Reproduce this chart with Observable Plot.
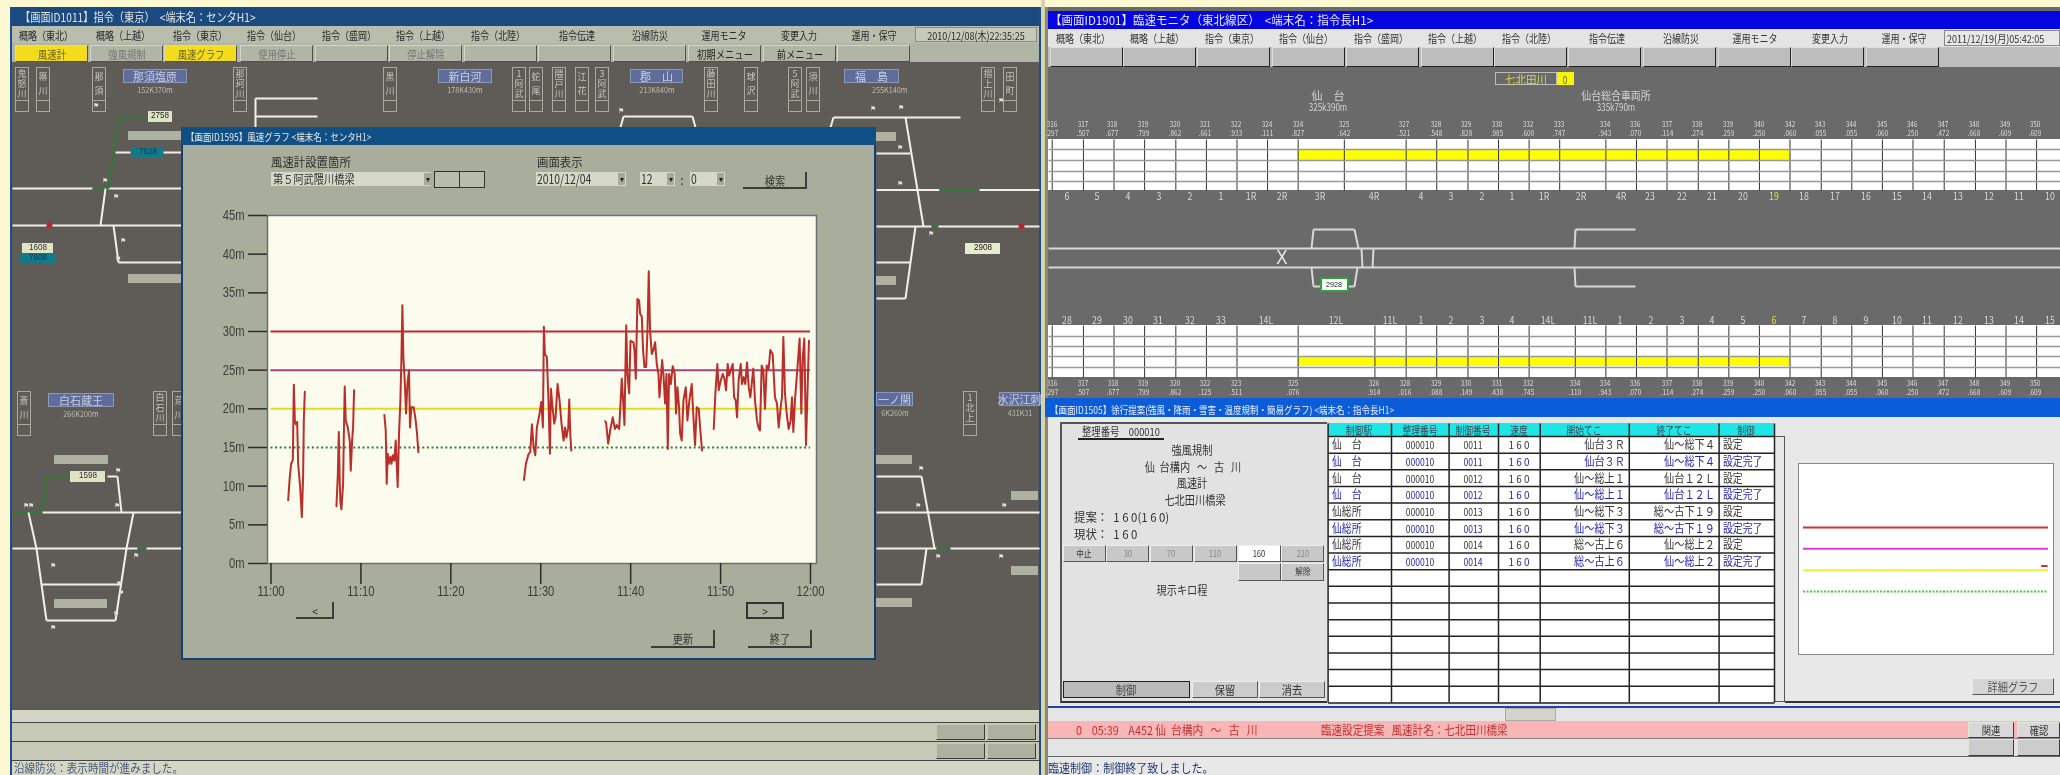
<!DOCTYPE html>
<html lang="ja"><head><meta charset="utf-8">
<script src="https://cdn.jsdelivr.net/npm/d3@7"></script>
<script src="https://cdn.jsdelivr.net/npm/@observablehq/plot@0.6"></script>
<style>
html,body{margin:0;padding:0;width:2060px;height:775px;overflow:hidden;background:#fbf8d2}
#root{position:absolute;left:0;top:0;width:2060px;height:775px;overflow:hidden;font-family:"Noto Sans CJK JP","Noto Sans",sans-serif;filter:blur(.3px)}
#root svg{position:absolute;background:transparent}
</style></head><body><div id="root"></div>
<script>
// ---------- chart data: wind speed (m/s) by minutes after 11:00 ----------
const minA=[1.91,2.09,2.24,2.43,2.54,2.65,2.76,2.91,3.02,3.24,3.43,3.57,3.65,3.76];
const valA=[8.2,11.2,12.9,13.4,23.1,18.5,18,18.3,12.9,9.9,6,11.2,18.5,22.2];
const minB=[7.28,7.43,7.54,7.65,7.72,7.83,8.02,8.09,8.2,8.31,8.54,8.76,8.87,9.02,9.13,9.24];
const valB=[7.4,11.4,17,10.3,7.9,7,10.3,15.9,22.9,18.5,17.6,15.9,12,15.9,17.6,22.4];
const minC=[12.61,12.76,12.87,12.98,13.09,13.28,13.39,13.57,13.72,13.87,14.09,14.24,14.39,14.5,14.61,14.72,14.87,15.02,15.17,15.35,15.46,15.61,15.87,16.09,16.24,16.39];
const valC=[19.2,17.2,10.3,14.2,12.9,13.8,12.9,14,13.3,15.9,9.9,16.8,21.1,26.3,33.4,26.7,23.7,19.4,23.2,25,17.6,20.2,20.2,18.5,16.8,14.4];
const minD=[28.13,28.35,28.65,28.83,29.02,29.2,29.39,29.57,29.87,30.06,30.24,30.35,30.46,30.68,30.87,31.02,31.13,31.31,31.5,31.65,31.87,32.09,32.31,32.54,32.7,32.85,33.06,33.17,33.28,33.4];
const valD=[10.8,12.9,14.2,14.4,18,15.1,14,17.6,19.4,20.9,17.6,30.6,27.1,26.7,20.7,14.2,22.6,20.2,18.1,18.9,23.2,21.1,18.1,15.9,17.6,16.3,17.6,21.2,16.8,14.6];
const minE=[37.16,37.27,37.5,37.72,38.01,38.24,38.46,38.72,38.83,39.01,39.16,39.31,39.5,39.64,39.83,39.98,40.31,40.42,40.57,40.75,40.94,41.05,41.24,41.38,41.53,41.72,41.87,42.01,42.16,42.35,42.53,42.72,42.9,43.09,43.2,43.35,43.5,43.64,43.83,43.98,44.13,44.27,44.46,44.68,44.9,45.05,45.2,45.38,45.5,45.68,45.87,46.13,46.31,46.53,46.79,46.98,47.16,47.35,47.57,47.75,47.94];
const valE=[18.4,18.2,15.5,17.2,18.9,17.4,17.9,17.4,19.8,23.9,21.1,17.9,30.8,24.5,22,28.8,28.6,27.6,23.9,34.2,34,32.3,31.9,27.6,25.4,25.4,30.1,37.8,30.1,27.1,27.6,28.6,25.8,24.5,21.5,23.7,26.3,24.5,20.7,24.5,14.8,24.5,23.2,25.5,24.5,19.4,22.8,20.2,16.8,15.9,21.1,22.8,18.5,21.1,23.2,18.9,15.3,20.2,20,17.2,14.6];
const minF=[49.24,49.42,49.64,49.79,49.98,50.24,50.42,50.61,50.79,50.94,51.13,51.35,51.5,51.68,51.83,52.01,52.24,52.38,52.57,52.75,52.94,53.13,53.31,53.64,53.83,54.05,54.2,54.38,54.57,54.75,54.94,55.13,55.35,55.53,55.79,56.05,56.27,56.46,56.68,56.83,56.98,57.16,57.35,57.57,57.79,57.94,58.09,58.27,58.53,58.79,58.98,59.12,59.31,59.5,59.64,59.83];
const valF=[17.4,22,25.8,22.4,23.5,24.5,23.9,22.4,25.8,24.3,25,25.8,21.5,21.1,18.9,23.7,25.8,23.2,24.1,23.2,26,22.8,21.5,25.2,21.1,18.5,17.6,17.2,25.6,25,20,25.6,25.2,27.6,27.1,21.5,20.7,17.6,20.2,21.5,29.3,22,19.4,17.4,18.5,21.5,17,21.1,25,29.1,19.4,26.3,29.1,15.3,21.1,28.8];
const solidThresholds=[30,25,20];
const dottedThresholds=[15];
const yTicks=[0,5,10,15,20,25,30,35,40,45];
const xTickMinutes=[0,10,20,30,40,50,60];
const miniMin=[58.4,59.6], miniVal=[21,21];

// ---------- screen texts ----------
const menuNames=["概略（東北）","概略（上越）","指令（東京）","指令（仙台）","指令（盛岡）","指令（上越）","指令（北陸）","指令伝達","沿線防災","運用モニタ","変更入力","運用・保守"];
const leftButtons=["風速計","強風規制","風速グラフ","使用停止","","停止解除","","","","初期メニュー","前メニュー",""];
const tableHead=["制御駅","整理番号","制御番号","速度","開始てこ","終了てこ","制御"];
const tableRows=[
["仙　台","000010","0011","1 6 0","仙台３Ｒ","仙〜総下４","設定"],
["仙　台","000010","0011","1 6 0","仙台３Ｒ","仙〜総下４","設定完了"],
["仙　台","000010","0012","1 6 0","仙〜総上１","仙台１２Ｌ","設定"],
["仙　台","000010","0012","1 6 0","仙〜総上１","仙台１２Ｌ","設定完了"],
["仙総所","000010","0013","1 6 0","仙〜総下３","総〜古下１９","設定"],
["仙総所","000010","0013","1 6 0","仙〜総下３","総〜古下１９","設定完了"],
["仙総所","000010","0014","1 6 0","総〜古上６","仙〜総上２","設定"],
["仙総所","000010","0014","1 6 0","総〜古上６","仙〜総上２","設定完了"]];
const kmTop=[[18,"316",".297"],[66,"317",".507"],[110,"318",".677"],[158,"319",".799"],[207,"320",".862"],[254,"321",".661"],[302,"322",".933"],[349,"324",".111"],[396,"324",".827"],[467,"325",".642"],[560,"327",".521"],[608,"328",".548"],[655,"329",".828"],[703,"330",".985"],[750,"332",".600"],[798,"333",".747"],[868,"334",".943"],[915,"336",".070"],[963,"337",".114"],[1010,"338",".274"],[1057,"339",".259"],[1105,"340",".250"],[1152,"342",".060"],[1199,"343",".055"],[1246,"344",".055"],[1294,"345",".060"],[1341,"346",".250"],[1388,"347",".472"],[1436,"348",".668"],[1483,"349",".609"],[1530,"350",".609"]];
const kmBottom=[[18,"316",".297"],[66,"317",".507"],[112,"318",".677"],[158,"319",".799"],[207,"320",".862"],[254,"322",".125"],[302,"323",".511"],[389,"325",".076"],[514,"326",".914"],[561,"328",".016"],[608,"329",".088"],[655,"330",".149"],[703,"331",".438"],[750,"332",".745"],[822,"334",".110"],[869,"334",".943"],[915,"336",".070"],[963,"337",".114"],[1010,"338",".274"],[1057,"339",".259"],[1105,"340",".250"],[1152,"342",".060"],[1199,"343",".055"],[1246,"344",".055"],[1294,"345",".060"],[1341,"346",".250"],[1388,"347",".472"],[1436,"348",".668"],[1483,"349",".609"],[1530,"350",".609"]];
const topNums=[[42,"6"],[88,"5"],[135,"4"],[183,"3"],[230,"2"],[278,"1"],[325,"1R"],[372,"2R"],[431,"3R"],[514,"4R"],[585,"4"],[632,"3"],[679,"2"],[726,"1"],[775,"1R"],[832,"2R"],[893,"4R"],[938,"23"],[987,"22"],[1033,"21"],[1080,"20"],[1128,"19"],[1175,"18"],[1222,"17"],[1270,"16"],[1317,"15"],[1364,"14"],[1411,"13"],[1458,"12"],[1505,"11"],[1552,"10"]];
const lowNums=[[41,"28"],[88,"29"],[135,"30"],[182,"31"],[231,"32"],[278,"33"],[347,"14L"],[455,"12L"],[538,"11L"],[585,"1"],[632,"2"],[679,"3"],[726,"4"],[781,"14L"],[845,"11L"],[892,"1"],[939,"2"],[986,"3"],[1033,"4"],[1081,"5"],[1128,"6"],[1175,"7"],[1222,"8"],[1270,"9"],[1317,"10"],[1364,"11"],[1411,"12"],[1458,"13"],[1505,"14"],[1552,"15"]];

// ---------- helpers ----------
const root=document.getElementById("root");
const rx=z=>1040+z/1.537;
function box(x,y,w,h,bg,css=""){const d=document.createElement("div");d.style.cssText=`position:absolute;left:${x}px;top:${y}px;width:${w}px;height:${h}px;background:${bg};box-sizing:border-box;${css}`;root.append(d);return d;}
function txt(x,y,s,o={}){const {size=11,color="#222",anchor="l",sx=.85,css=""}=o;const d=document.createElement("div");
 const t=anchor==="l"?`translateY(-50%) scaleX(${sx})`:anchor==="c"?`translate(-50%,-50%) scaleX(${sx})`:`translate(-100%,-50%) scaleX(${sx})`;
 const org=anchor==="l"?"left center":anchor==="c"?"center center":"right center";
 d.style.cssText=`position:absolute;left:${x}px;top:${y}px;font-size:${size}px;line-height:1.1;color:${color};white-space:pre;transform:${t};transform-origin:${org};${css}`;d.textContent=s;root.append(d);return d;}
function btn(x,y,w,h,bg,label,o={}){box(x,y,w,h,bg,`border:1px solid;border-color:${o.hi||"#e4e6da"} ${o.lo||"#3a3c38"} ${o.lo||"#3a3c38"} ${o.hi||"#e4e6da"};`);if(label)txt(x+w/2,y+h/2,label,{anchor:"c",size:o.size||11,color:o.color||"#333",sx:o.sx||.85});}
function vbox(x,y,label){box(x,y,14,45,"transparent","border:1px solid #a9a9a0;");box(x,y+33,14,1,"#a9a9a0");
 const ch=[...label],step=ch.length>2?10:14,y0=y+17-(ch.length-1)*step/2;
 ch.forEach((c,i)=>txt(x+7,y0+i*step,c,{anchor:"c",size:9,color:"#c4c4ba",sx:1}));}
function station(x,y,w,name,sub){box(x,y,w,14,"#5f6d9c","border:1px solid #8d97b6;");txt(x+w/2,y+7,name,{anchor:"c",size:11,color:"#c9cde0",sx:1});if(sub)txt(x+w/2,y+21,sub,{anchor:"c",size:8,color:"#bdbdb2",sx:.9});}

// ---------- left screen ----------
box(11,7,1030,768,"#5f5c58");
box(10,7,2,768,"#1d4f86");box(1039,7,2,768,"#1d4f86");box(1041,0,4,775,"#d7d4ad");
box(12,7,1027,19,"#1b4a80");
txt(20,17,"【画面ID1011】指令（東京）　<端末名：センタH1>",{size:12,color:"#e2e6e2"});
box(12,26,1027,17,"#b9bdad");
[[13,65],[96,53],[171,58],[245,57],[320,58],[395,56],[470,56],[556,41],[630,40],[698,51],[778,42],[847,53]].forEach(([x,w],i)=>{txt(x+w/2,35,menuNames[i],{anchor:"c",size:11,color:"#2a2a2a",sx:.82});});
box(915,27,122,15,"#c6c9ba","border:1px solid #8b8d80;");txt(976,35,"2010/12/08(木)22:35:25",{anchor:"c",size:11,color:"#2c2c2c",sx:.82});
box(12,43,1027,19,"#b1b5a5");
[15,90,164,240,315,389,464,538,613,688,763,837].forEach((x,i)=>{const y=i===0||i===2;btn(x,45,73,17,y?"#f3dc1e":"#b1b5a5",leftButtons[i],{color:y?"#6d6420":(i>=9?"#222":"#777"),hi:"#d5d8c8",lo:"#4e504a"});});
[[15,"鬼怒川"],[36,"箒川"],[92,"那須"],[233,"那珂川"],[383,"黒川"],[512,"1阿武"],[529,"蛇尾"],[552,"隈戸川"],[575,"江花"],[595,"3阿武"],[704,"藤田川"],[744,"球沢"],[788,"5阿武"],[806,"須川"],[981,"摺上川"],[1003,"田町"]].forEach(([x,l])=>vbox(x,67,l));
station(123,69,64,"那須塩原","152K370m");station(438,69,54,"新白河","178K430m");station(630,69,53,"郡　山","213K840m");station(844,69,55,"福　島","");txt(872,90,"255K140m",{anchor:"l",size:8,color:"#bdbdb2",sx:.9});
[[17,"斎川"],[153,"白石川"],[172,"荒川"],[963,"1北上"]].forEach(([x,l])=>vbox(x,391,l));
station(48,393,66,"白石蔵王","266K200m");station(876,392,37,"一ノ関","6K260m");station(999,392,41,"水沢江刺","431K31");
[[128,131,53],[128,274,53],[54,455,54],[54,599,53],[876,132,20],[876,276,20],[876,455,36],[876,598,36],[1011,491,27],[1011,566,27]].forEach(([x,y,w])=>box(x,y,w,9,"#aeb1a0"));
box(12,710,1027,12,"#d2d5c2");box(12,722,1027,1,"#444");box(12,741,1027,1,"#444");box(12,760,1027,1,"#444");
box(12,723,1027,18,"#c6c9b6");box(12,742,1027,18,"#c6c9b6");box(12,761,1027,14,"#d5d7c6");
[[936,724],[987,724],[936,743],[987,743]].forEach(([x,y])=>btn(x,y,49,16,"#aeb1a0","",{hi:"#c6c9b6",lo:"#3a3c38"}));
txt(14,768,"沿線防災：表示時間が進みました。",{size:12,color:"#4a5a78",sx:.88});

// ---------- right screen ----------
box(1045,7,1015,768,"#6a6a6a");box(1045,7,3,768,"#8a8a6a");
box(1048,11,1012,18,"#0505e0");
txt(1050,20,"【画面ID1901】臨速モニタ（東北線区）  <端末名：指令長H1>",{size:12,color:"#e8e8ff",sx:.96});
box(1048,29,1012,18,"#e4e4e4");
[[1054,58],[1128,58],[1203,57],[1277,58],[1352,58],[1426,58],[1501,56],[1585,43],[1659,43],[1730,50],[1809,41],[1877,53]].forEach(([x,w],i)=>txt(x+w/2,38,menuNames[i],{anchor:"c",size:11,color:"#333",sx:.82}));
box(1944,30,116,16,"#e8e8e8","border:1px solid #888;");txt(1947,38,"2011/12/19(月)05:42:05",{size:11,color:"#333",sx:.82});
box(1048,47,1012,20,"#bdbdbd");
[1050,1123,1197,1272,1346,1421,1494,1568,1643,1718,1791,1866].forEach(x=>btn(x,47,73,20,"#bdbdbd","",{hi:"#ddd",lo:"#222"}));
box(1495,72,62,13,"#6a6a6a","border:1.5px solid #bdbdbd;");txt(1526,78.5,"七北田川",{anchor:"c",size:11,color:"#d8d84a",sx:.95});box(1557,72,17,13,"#f6f600");txt(1565,78.5,"0",{anchor:"c",size:10,color:"#555",sx:.8});
txt(1328,95,"仙　台",{anchor:"c",size:11,color:"#d4d4d4",sx:1});txt(1328,106,"325k390m",{anchor:"c",size:10,color:"#d4d4d4",sx:.8});
txt(1616,95,"仙台総合車両所",{anchor:"c",size:11,color:"#d4d4d4",sx:.9});txt(1616,106,"335k790m",{anchor:"c",size:10,color:"#d4d4d4",sx:.8});
box(1048,139,1012,51,"#fff");box(1048,325,1012,52,"#fff");
kmTop.forEach(([z,a,b])=>{txt(rx(z),124,a,{anchor:"c",size:8,color:"#ddd",sx:.8});txt(rx(z),133,b,{anchor:"c",size:8,color:"#ddd",sx:.8});});
kmBottom.forEach(([z,a,b])=>{txt(rx(z),383,a,{anchor:"c",size:8,color:"#ddd",sx:.8});txt(rx(z),392,b,{anchor:"c",size:8,color:"#ddd",sx:.8});});
topNums.forEach(([z,l])=>txt(rx(z),195,l,{anchor:"c",size:11,color:l==="19"?"#e0e040":"#d8d8d8",sx:.8}));
lowNums.forEach(([z,l])=>txt(rx(z),319,l,{anchor:"c",size:11,color:l==="6"?"#e0e040":"#d8d8d8",sx:.8}));

// lower proposal window
box(1045,398,1015,19,"#0a5cd8");
txt(1050,409,"【画面ID1505】徐行提案(強風・降雨・雪害・温度規制・簡易グラフ) <端末名：指令長H1>",{size:10,color:"#eef",sx:.85});
box(1048,417,1012,291,"#e8e8e8");box(1048,706,1012,2,"#2244aa");
box(1060,422,267,281,"#e2e2e2","border-top:2px solid #555;border-left:2px solid #555;border-bottom:2px solid #333;");
txt(1082,431,"整理番号　000010",{size:11,color:"#333"});box(1078,438,86,1.5,"#222");
[["強風規制",1192,450],["仙  台構内   〜   古   川",1193,467],["風速計",1192,483],["七北田川橋梁",1195,500]].forEach(([s,x,y])=>txt(x,y,s,{anchor:"c",size:12,color:"#333"}));
txt(1074,517,"提案：  1 6 0(1 6 0)",{size:12,color:"#333",sx:.95});txt(1074,534,"現状：  1 6 0",{size:12,color:"#333",sx:.95});
[[35,"中止"],[102,"30"],[169,"70"],[236,"110"],[304,"160"],[371,"210"]].forEach(([z,l],i)=>btn(rx(z),545,43,17,i===4?"#fff":"#c8c8c8",l,{size:9,color:i===0||i===4?"#333":"#888",hi:"#eee",lo:"#555"}));
btn(rx(304),563,43,18,"#c8c8c8","",{hi:"#eee",lo:"#555"});btn(rx(371),563,43,18,"#c8c8c8","解除",{size:9,hi:"#eee",lo:"#555"});
txt(rx(218),590,"現示キロ程",{anchor:"c",size:12,color:"#333"});
btn(rx(35),681,127,17,"#bbb","制御",{size:12,hi:"#222",lo:"#222",color:"#444"});btn(rx(233),681,66,17,"#ccc","保留",{size:12,hi:"#eee",lo:"#555"});btn(rx(337),681,66,17,"#ccc","消去",{size:12,hi:"#eee",lo:"#555"});
const tcols=[1327.6,1391,1448.6,1498,1539.7,1628.8,1718.6,1774];
box(1774,436,11,266,"#e8e8e8","border:1px solid #555;border-left:none;");box(1785,701,275,1.5,"#333");
tableHead.forEach((h,i)=>{box(tcols[i],423,tcols[i+1]-tcols[i],13,"#1fe6e6");txt((tcols[i]+tcols[i+1])/2,429.5,h,{anchor:"c",size:11,color:"#445",sx:.8});});
box(tcols[0],436,tcols[7]-tcols[0],266,"#fff");
const rowH=16.65;
tableRows.forEach((r,i)=>{const y=436+rowH*(i+.5),c=i%2?"#2424b0":"#333";
 txt(tcols[0]+4,y,r[0],{size:12,color:c,sx:.82});txt((tcols[1]+tcols[2])/2,y,r[1],{anchor:"c",size:11,color:c,sx:.78});txt((tcols[2]+tcols[3])/2,y,r[2],{anchor:"c",size:11,color:c,sx:.78});txt((tcols[3]+tcols[4])/2,y,r[3],{anchor:"c",size:11,color:c,sx:.9});txt(tcols[5]-4,y,r[4],{anchor:"r",size:12,color:c,sx:.85});txt(tcols[6]-4,y,r[5],{anchor:"r",size:12,color:c,sx:.85});txt(tcols[6]+4,y,r[6],{size:12,color:c,sx:.82});});
btn(1972,678,82,17,"#d5d5d5","詳細グラフ",{size:12,color:"#555",hi:"#eee",lo:"#555"});
box(1048,708,1012,13,"#e6e6e6");box(1505,708,51,13,"#d4d4c8","border:1px solid #aaa;");
box(1048,721,1012,17,"#f8b6b6");box(1048,738,1012,19,"#e4e4e4","border-top:1px solid #888;border-bottom:1px solid #666;");box(1048,757,1012,18,"#e8e8e8");
txt(1076,729.5,"0    05:39    A452 仙  台構内   〜   古   川",{size:12,color:"#c73030",sx:.9});txt(1321,729.5,"臨速設定提案   風速計名：七北田川橋梁",{size:12,color:"#c73030",sx:.88});
btn(1968,722,46,16,"#d8d8d8","関連",{size:11});btn(2017,722,43,16,"#d8d8d8","確認",{size:11});btn(1968,739,46,17,"#ccc","");btn(2017,739,43,17,"#ccc","");
txt(1048,768,"臨速制御：制御終了致しました。",{size:12,color:"#223a70",sx:.92});

// ---------- schematic layer (track lines and grids), same pixel space as the screens ----------
const W="#f0f0e8",G="#2f7a35",K="#d8d8d8";
const leftTracks=[[12,188,92,188,W],[92,188,108,188,G],[108,188,182,188,W],[12,225,182,225,W],[105,188,100,225,W],[113,225,118,262,W],[118,262,182,262,W],[108,188,118,117,G],[118,117,145,117,G],[115,152,130,152,W],[163,152,182,152,W],
[12,512,42,512,G],[42,512,45,476,G],[45,476,70,476,G],[107,476,117,476,W],[117,476,121,512,W],[42,512,182,512,W],[12,548,137,548,W],[137,548,146,548,G],[146,548,182,548,W],[28,512,36,548,W],[36,548,46,620,W],[41,584,120,584,W],[46,620,115,620,W],[133,512,126,548,W],[126,548,115,620,W],
[255,98,255,127,W],[255,98,317,98,W],[255,116,317,116,W],[623,116,692,116,W],[623,116,620,127,W],[692,116,695,127,W],[833,117,960,117,W],[833,117,830,127,W],
[905,117,923,226,W],[876,153,910,153,W],[876,189.5,939,189.5,W],[939,189.5,978,189.5,G],[979,189.5,1039,189.5,W],[876,226,931,226,W],[931,226,938,226,G],[938,226,1039,226,W],[915,226,905,298,W],[876,262,910,262,W],[876,298,905,298,W],
[876,476,921,476,W],[921,476,934,548,W],[876,512,1039,512,W],[876,548,936,548,W],[936,548,949,548,G],[950,548,1039,548,W],[926,548,921,584,W],[876,584,921,584,W]];
const rightTracks=[[1048,248,2060,248,K],[1048,267,2060,267,K],[1311,248,1313,229,K],[1313,229,1354,229,K],[1354,229,1358,248,K],[1311,267,1313,286,K],[1313,286,1354,286,K],[1354,286,1357,267,K],[1361,248,1362,267,K],[1373,248,1372,267,K],[1574,248,1575,229,K],[1575,229,1635,229,K],[1574,267,1575,286,K],[1575,286,1635,286,K]];
const topCols=[18,66,113,160,208,255,302,349,396,467,562,609,657,704,751,798,869,916,963,1011,1058,1105,1152,1200,1247,1294,1341,1389,1437,1484,1531];
const lowCols=[18,66,113,160,208,255,302,396,514,562,609,657,704,751,822,869,916,963,1011,1058,1105,1152,1200,1247,1294,1341,1389,1437,1484,1531];
const gridLinks=[];
topCols.forEach(z=>gridLinks.push([rx(z),139,rx(z),190,"#333",1]));lowCols.forEach(z=>gridLinks.push([rx(z),325,rx(z),377,"#333",1]));
[149,160,171,181,336,346,356,367].forEach(y=>gridLinks.push([1048,y,2060,y,"#999",1.5]));
tcols.forEach(x=>gridLinks.push([x,423,x,702,"#222",1.5]));
d3.range(0,17).forEach(i=>gridLinks.push([tcols[0],436+i*rowH,tcols[7],436+i*rowH,"#222",1.5]));
const bands=[[rx(396),150,rx(1152),160,"#ffff00"],[rx(396),356,rx(1152),366,"#ffff00"]];
const linkRow=w=>d=>({x1:d[0],y1:d[1],x2:d[2],y2:d[3],c:d[4],w:d[5]??w});
const schematic=Plot.plot({width:2060,height:775,margin:0,x:{domain:[0,2060],range:[0,2060]},y:{domain:[0,775],range:[0,775]},color:{type:"identity"},axis:null,style:{background:"transparent"},
 marks:[
  Plot.rect(bands.map(d=>({x1:d[0],y1:d[1],x2:d[2],y2:d[3],c:d[4]})),{x1:"x1",x2:"x2",y1:"y1",y2:"y2",fill:"c"}),
  Plot.link(leftTracks.map(linkRow(2)),{x1:"x1",y1:"y1",x2:"x2",y2:"y2",stroke:"c",strokeWidth:"w"}),
  Plot.link(rightTracks.map(linkRow(2)),{x1:"x1",y1:"y1",x2:"x2",y2:"y2",stroke:"c",strokeWidth:"w"}),
  Plot.link(gridLinks.map(linkRow(1)),{x1:"x1",y1:"y1",x2:"x2",y2:"y2",stroke:"c",strokeWidth:"w"}),
  Plot.dot([[49,225],[1021,226]],{x:"0",y:"1",r:3,fill:"#b5282a"}),
  Plot.text([[95,105],[620,110],[872,108],[1000,100],[104,180],[115,196],[122,240],[117,258],[117,470],[25,505],[30,505],[116,505],[135,555],[52,565],[120,592],[118,583],[52,627],[115,613],[900,107],[899,147],[899,183],[930,233],[920,468],[917,505],[1003,505],[937,556],[1000,556]],{x:"0",y:"1",text:()=>"⚑",fontSize:7,fill:"#e0e0d8"})
 ]});
schematic.style.left="0";schematic.style.top="0";root.append(schematic);
// train labels
[[148,111,24,"2758","#dfe5c4","#222"],[132,147,31,"7628","#127a8a","#0d3f55"],[22,243,31,"1608","#dfe5c4","#333"],[20,253,35,"7608","#127a8a","#0d3f55"],[70,471,35,"1598","#dfe5c4","#333"],[965,243,35,"2908","#e8eccf","#111"]].forEach(([x,y,w,t,b,c])=>{box(x,y,w,10.5,b);txt(x+w/2,y+5.3,t,{anchor:"c",size:9,color:c,sx:.9,css:"font-family:'Liberation Sans',sans-serif;"});});
box(1320,277,29,15,"#fff","border:2px solid #2aa53a;");txt(1334,284.5,"2928",{anchor:"c",size:8,color:"#222",sx:.9,css:"font-family:'Liberation Sans',sans-serif;"});
txt(1282,257,"X",{anchor:"c",size:20,color:"#e8e8e8",sx:.85,css:"font-family:'Liberation Sans',sans-serif;font-weight:300;"});

// ---------- dialog ----------
box(181,127,695,533,"#a9ae9c","border:2px solid #123f74;");
box(181,127,695,18,"#0f4f86");
txt(186,136,"【画面ID1595】風速グラフ <端末名：センタH1>",{size:10,color:"#e6ebe8"});
txt(271,162,"風速計設置箇所",{size:12,color:"#30302c",sx:.95});txt(537,162,"画面表示",{size:12,color:"#30302c",sx:.95});
box(271,172,160,14,"#d6d9c9");txt(273,179,"第５阿武隈川橋梁",{size:12,color:"#333"});box(424,173,7,12,"#a5a89a");txt(427.5,179,"▾",{anchor:"c",size:8,color:"#222",sx:1});
box(434,171,51,17,"#b8bcab","border:1px solid #333;");box(459,171,1,17,"#333");
[[536,90,"2010/12/04"],[640,35,"12"],[690,35,"0"]].forEach(([x,w,t])=>{box(x,172,w,14,"#d6d9c9");txt(x+1,179,t,{size:13,color:"#333",sx:.8});box(x+w-8,173,7,12,"#a5a89a");txt(x+w-4.5,179,"▾",{anchor:"c",size:8,color:"#222",sx:1});});
txt(682,180,":",{anchor:"c",size:12,color:"#222",sx:1});
const dBtn=(x,y,w,h,l,css="")=>{box(x,y,w,h,"#a9ae9c","border-right:2px solid #3a3c38;border-bottom:2px solid #3a3c38;"+css);txt(x+w/2,y+h/2,l,{anchor:"c",size:12,color:"#333"});};
dBtn(743,172,64,17,"検索");dBtn(296,602,38,17,"<");dBtn(746,602,38,17,">","border:2px solid #333;");dBtn(651,630,64,18,"更新");dBtn(748,630,64,18,"終了");

// ---------- main chart ----------
const t0=Date.UTC(2010,11,4,11,0);
const toTime=m=>new Date(t0+m*60000);
const segs=[[minA,valA],[minB,valB],[minC,valC],[minD,valD],[minE,valE],[minF,valF]];
const wind=segs.flatMap(([ms,vs],k)=>ms.map((m,i)=>({t:toTime(m),v:vs[i],seg:k})));
const thColor={30:"#bd2c30",25:"#a4447c",20:"#e6dc1e",15:"#2f7d3c"};
const ink="#3b3d3a";
const chart=Plot.plot({width:680,height:500,marginLeft:77,marginRight:54,marginTop:65,marginBottom:87,
 x:{type:"utc",domain:[toTime(0),toTime(60)],insetLeft:3.5,insetRight:6},y:{domain:[0,45]},
 style:{background:"transparent",fontFamily:"'Liberation Sans','DejaVu Sans',sans-serif"},
 marks:[
  Plot.frame({fill:"#fbfbee",stroke:"#6b6f70",strokeWidth:1.5}),
  Plot.ruleY(solidThresholds,{x1:()=>toTime(0),x2:()=>toTime(60),stroke:d=>thColor[d],strokeWidth:2}),
  Plot.ruleY(dottedThresholds,{x1:()=>toTime(0),x2:()=>toTime(60),stroke:d=>thColor[d],strokeWidth:2,strokeDasharray:"2,2.6"}),
  Plot.line(wind,{x:"t",y:"v",z:"seg",stroke:"#ba2f2a",strokeWidth:2,curve:"linear"}),
  Plot.axisY({ticks:yTicks,tickFormat:d=>d+"m",tickSize:19,tickPadding:4,fontSize:14,stroke:"#2a2c2a",strokeWidth:1.5,fill:ink,label:null}),
  Plot.axisX({ticks:xTickMinutes.map(toTime),tickFormat:d3.utcFormat("%H:%M"),tickSize:21,tickPadding:2,fontSize:14,stroke:"#2a2c2a",strokeWidth:1.5,fill:ink,label:null})
 ]});
chart.style.left="190px";chart.style.top="150px";root.append(chart);
// the tick labels in the reference are condensed
chart.querySelectorAll('[aria-label$="tick label"] text').forEach(t=>{t.setAttribute("lengthAdjust","spacingAndGlyphs");t.setAttribute("textLength",t.getComputedTextLength()*.8);});

// ---------- small chart on the proposal window ----------
box(1798,463,256,192,"#fff","border:1px solid #888;");
const miniColor={30:"#cc3333",25:"#e23ad8",20:"#f2ee3c",15:"#3ed03e"};
const mini=Plot.plot({width:256,height:192,margin:0,x:{domain:[0,60],range:[5,250]},y:{domain:[0,45],range:[192,0]},axis:null,style:{background:"transparent"},
 marks:[
  Plot.ruleY(solidThresholds,{x1:0,x2:60,stroke:d=>miniColor[d],strokeWidth:2}),
  Plot.ruleY(dottedThresholds,{x1:0,x2:60,stroke:d=>miniColor[d],strokeWidth:2,strokeDasharray:"2,1.5"}),
  Plot.line(miniMin.map((m,i)=>({m,v:miniVal[i]})),{x:"m",y:"v",stroke:"#d0342c",strokeWidth:2})
 ]});
mini.style.left="1798px";mini.style.top="463px";root.append(mini);
</script></body></html>
